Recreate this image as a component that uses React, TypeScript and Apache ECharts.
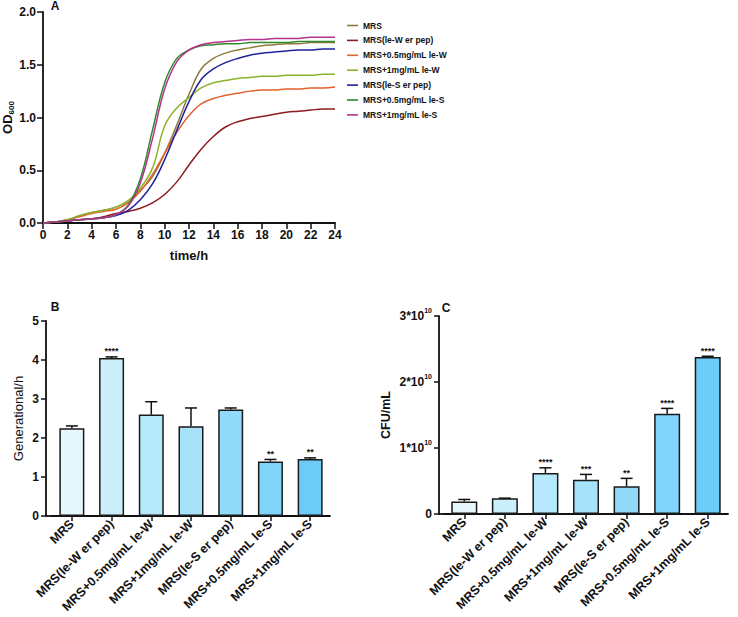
import React, { useEffect, useRef } from "react";
import * as echarts from "echarts";

// ---------- Panel A: growth curves ----------
const hours = [0, 1, 2, 3, 4, 5, 6, 7, 8, 9, 10, 11, 12, 13, 14, 15, 16, 17, 18, 19, 20, 21, 22, 23, 24];
const groupNames = [
  "MRS",
  "MRS(le-W er pep)",
  "MRS+0.5mg/mL le-W",
  "MRS+1mg/mL le-W",
  "MRS(le-S er pep)",
  "MRS+0.5mg/mL le-S",
  "MRS+1mg/mL le-S",
];
const odMRS = [0.0, 0.01, 0.03, 0.07, 0.1, 0.12, 0.15, 0.21, 0.31, 0.44, 0.66, 0.93, 1.22, 1.46, 1.56, 1.61, 1.64, 1.66, 1.68, 1.69, 1.7, 1.7, 1.71, 1.71, 1.71];
const odLeWPep = [0.0, 0.01, 0.02, 0.03, 0.04, 0.06, 0.09, 0.11, 0.14, 0.19, 0.27, 0.39, 0.55, 0.7, 0.82, 0.91, 0.96, 0.99, 1.01, 1.03, 1.05, 1.06, 1.07, 1.08, 1.08];
const odLeW05 = [0.0, 0.01, 0.03, 0.06, 0.09, 0.11, 0.13, 0.19, 0.3, 0.46, 0.66, 0.86, 1.02, 1.13, 1.18, 1.21, 1.23, 1.25, 1.26, 1.26, 1.27, 1.27, 1.28, 1.28, 1.29];
const odLeW1 = [0.0, 0.01, 0.03, 0.07, 0.1, 0.12, 0.15, 0.21, 0.33, 0.52, 0.92, 1.09, 1.19, 1.28, 1.33, 1.35, 1.37, 1.38, 1.39, 1.39, 1.4, 1.4, 1.4, 1.41, 1.41];
const odLeSPep = [0.0, 0.01, 0.02, 0.03, 0.04, 0.05, 0.07, 0.12, 0.22, 0.37, 0.6, 0.88, 1.15, 1.36, 1.46, 1.52, 1.56, 1.59, 1.61, 1.62, 1.63, 1.64, 1.64, 1.65, 1.65];
const odLeS05 = [0.0, 0.01, 0.02, 0.03, 0.04, 0.05, 0.08, 0.17, 0.42, 0.88, 1.33, 1.56, 1.64, 1.68, 1.69, 1.7, 1.7, 1.71, 1.71, 1.71, 1.71, 1.72, 1.72, 1.72, 1.72];
const odLeS1 = [0.0, 0.01, 0.02, 0.03, 0.04, 0.05, 0.08, 0.16, 0.38, 0.8, 1.27, 1.53, 1.64, 1.69, 1.71, 1.72, 1.73, 1.74, 1.74, 1.75, 1.75, 1.75, 1.76, 1.76, 1.76];
const odSeries = [odMRS, odLeWPep, odLeW05, odLeW1, odLeSPep, odLeS05, odLeS1];
const lineColors = ["#8F7B3C", "#8E1B1F", "#E2622C", "#8CB32B", "#20209A", "#2F8A2F", "#B4338E"];

// ---------- Panel B: generation ----------
const genMean = [2.25, 4.05, 2.6, 2.3, 2.73, 1.4, 1.46];
const genErrTop = [2.31, 4.08, 2.93, 2.77, 2.77, 1.45, 1.49];
const genSig = ["", "****", "", "", "", "**", "**"];

// ---------- Panel C: CFU ----------
const cfuMean = [1.9e9, 2.4e9, 6.2e9, 5.2e9, 4.2e9, 1.52e10, 2.38e10];
const cfuErrTop = [2.2e9, 2.4e9, 7.0e9, 6.0e9, 5.4e9, 1.6e10, 2.39e10];
const cfuSig = ["", "", "****", "***", "**", "****", "****"];

const barColors = ["#E6F7FE", "#CCEFFC", "#B6E8FB", "#A6E2FA", "#91DAF9", "#80D3F9", "#6DCBF7"];

const FONT = "'Liberation Sans', Arial, sans-serif";

// grid geometry (pixels)
const GA = { left: 43, top: 12, width: 292, height: 211, outerBoundsMode: "none" };
const GB = { left: 52, top: 321, width: 278, height: 195, outerBoundsMode: "none" };
const GC = { left: 444, top: 316, width: 284, height: 198, outerBoundsMode: "none" };

function errRender(errTop: number[], sig: string[]) {
  return (params: any, api: any) => {
    const i = params.dataIndex;
    const v = api.value(1);
    const e = api.value(2);
    const p0 = api.coord([i, v]);
    const p1 = api.coord([i, e]);
    const half = 6;
    const children: any[] = [
      { type: "line", shape: { x1: p0[0], y1: p0[1], x2: p1[0], y2: p1[1] }, style: { stroke: "#111", lineWidth: 1.5 } },
      { type: "line", shape: { x1: p1[0] - half, y1: p1[1], x2: p1[0] + half, y2: p1[1] }, style: { stroke: "#111", lineWidth: 1.5 } },
    ];
    if (sig[i]) {
      children.push({
        type: "text",
        style: {
          text: sig[i],
          x: p1[0],
          y: p1[1] - 1,
          align: "center",
          verticalAlign: "bottom",
          fontSize: 9,
          fontWeight: "bold",
          fontFamily: FONT,
          fill: "#111",
        },
      });
    }
    return { type: "group", children };
  };
}

const axisLine = { show: true, onZero: false, lineStyle: { color: "#111", width: 1.8 } };
const axisTick = { show: true, length: 5, lineStyle: { color: "#111", width: 1.5 } };
const tickLabel = { color: "#111", fontSize: 12, fontWeight: "bold" as const, fontFamily: FONT };

export default function App() {
  const ref = useRef<HTMLDivElement>(null);
  useEffect(() => {
    if (!ref.current) return;
    const chart = echarts.init(ref.current, undefined, { renderer: "svg" });
    const option: any = {
      animation: false,
      backgroundColor: "#fff",
      textStyle: { fontFamily: FONT },
      grid: [GA, GB, GC],
      legend: {
        orient: "vertical",
        left: 347,
        top: 21,
        padding: 0,
        itemWidth: 11,
        itemHeight: 8,
        itemGap: 5.9,
        icon: "path://M0,0h11v1.6h-11z",
        data: groupNames,
        textStyle: { fontSize: 8.5, fontWeight: "bold", color: "#111", fontFamily: FONT },
      },
      xAxis: [
        {
          gridIndex: 0,
          type: "value",
          min: 0,
          max: 24,
          interval: 2,
          name: "time/h",
          nameLocation: "middle",
          nameGap: 26,
          nameTextStyle: { fontSize: 13, fontWeight: "bold", color: "#111", fontFamily: FONT },
          axisLine,
          axisTick: { ...axisTick, length: 6 },
          axisLabel: { ...tickLabel, margin: 6 },
          splitLine: { show: false },
        },
        {
          gridIndex: 1,
          type: "category",
          data: groupNames,
          axisLine,
          axisTick: { ...axisTick, alignWithLabel: true },
          axisLabel: { ...tickLabel, fontSize: 12.5, rotate: 45, interval: 0, margin: 6 },
        },
        {
          gridIndex: 2,
          type: "category",
          data: groupNames,
          axisLine,
          axisTick: { ...axisTick, alignWithLabel: true },
          axisLabel: { ...tickLabel, fontSize: 12.5, rotate: 45, interval: 0, margin: 6 },
        },
      ],
      yAxis: [
        {
          gridIndex: 0,
          type: "value",
          min: 0,
          max: 2,
          interval: 0.5,
          name: "{a|OD}{b|600}",
          nameLocation: "middle",
          nameGap: 13,
          nameTextStyle: {
            rich: {
              a: { fontSize: 13, fontWeight: "bold", color: "#111", lineHeight: 16, verticalAlign: "middle", fontFamily: FONT },
              b: { fontSize: 8, fontWeight: "bold", color: "#111", lineHeight: 8, verticalAlign: "bottom", fontFamily: FONT },
            },
          },
          axisLine,
          axisTick: { ...axisTick, length: 6 },
          axisLabel: { ...tickLabel, margin: 7, formatter: (v: number) => v.toFixed(1) },
          splitLine: { show: false },
        },
        {
          gridIndex: 1,
          type: "value",
          min: 0,
          max: 5,
          interval: 1,
          offset: 6,
          name: "Generational/h",
          nameLocation: "middle",
          nameGap: 21,
          nameTextStyle: { fontSize: 13, color: "#111", fontFamily: FONT },
          axisLine,
          axisTick,
          axisLabel: { ...tickLabel, margin: 7 },
          splitLine: { show: false },
        },
        {
          gridIndex: 2,
          type: "value",
          min: 0,
          max: 3e10,
          interval: 1e10,
          offset: 5,
          name: "CFU/mL",
          nameLocation: "middle",
          nameGap: 47,
          nameTextStyle: { fontSize: 12.5, fontWeight: "bold", color: "#111", fontFamily: FONT },
          axisLine,
          axisTick,
          axisLabel: {
            ...tickLabel,
            margin: 7,
            formatter: (v: number) => (v === 0 ? "{m|0}" : `{m|${Math.round(v / 1e10)}*10}{s|10}`),
            rich: {
              m: { fontSize: 12, fontWeight: "bold", color: "#111", lineHeight: 18, verticalAlign: "middle", fontFamily: FONT },
              s: { fontSize: 7, fontWeight: "bold", color: "#111", lineHeight: 7, verticalAlign: "top", fontFamily: FONT },
            },
          },
          splitLine: { show: false },
        },
      ],
      series: [
        ...groupNames.map((name, k) => ({
          name,
          type: "line",
          xAxisIndex: 0,
          yAxisIndex: 0,
          smooth: 0.4,
          symbol: "none",
          lineStyle: { width: 1.5, color: lineColors[k] },
          itemStyle: { color: lineColors[k] },
          data: hours.map((h, i) => [h, odSeries[k][i]]),
        })),
        {
          type: "bar",
          xAxisIndex: 1,
          yAxisIndex: 1,
          barWidth: 25,
          data: genMean.map((v, i) => ({ value: v, itemStyle: { color: barColors[i] } })),
          itemStyle: { borderColor: "#1a1a1a", borderWidth: 1.5 },
        },
        {
          type: "custom",
          xAxisIndex: 1,
          yAxisIndex: 1,
          z: 10,
          renderItem: errRender(genErrTop, genSig),
          data: genMean.map((v, i) => [i, v, genErrTop[i]]),
        },
        {
          type: "bar",
          xAxisIndex: 2,
          yAxisIndex: 2,
          barWidth: 26,
          data: cfuMean.map((v, i) => ({ value: v, itemStyle: { color: barColors[i] } })),
          itemStyle: { borderColor: "#1a1a1a", borderWidth: 1.5 },
        },
        {
          type: "custom",
          xAxisIndex: 2,
          yAxisIndex: 2,
          z: 10,
          renderItem: errRender(cfuErrTop, cfuSig),
          data: cfuMean.map((v, i) => [i, v, cfuErrTop[i]]),
        },
      ],
      graphic: [
        {
          type: "line",
          z: 5,
          shape: { x1: GB.left - 6, y1: GB.top + GB.height, x2: GB.left + 1, y2: GB.top + GB.height },
          style: { stroke: "#111", lineWidth: 1.8 },
        },
        {
          type: "line",
          z: 5,
          shape: { x1: GC.left - 5, y1: GC.top + GC.height, x2: GC.left + 1, y2: GC.top + GC.height },
          style: { stroke: "#111", lineWidth: 1.8 },
        },
        { type: "text", x: 55, y: 6, style: { text: "A", fontSize: 12, fontWeight: "bold", fill: "#111", align: "center", verticalAlign: "middle", fontFamily: FONT } },
        { type: "text", x: 55, y: 307, style: { text: "B", fontSize: 12, fontWeight: "bold", fill: "#111", align: "center", verticalAlign: "middle", fontFamily: FONT } },
        { type: "text", x: 446, y: 308, style: { text: "C", fontSize: 12, fontWeight: "bold", fill: "#111", align: "center", verticalAlign: "middle", fontFamily: FONT } },
      ],
    };
    chart.setOption(option);
    return () => chart.dispose();
  }, []);
  return <div ref={ref} style={{ position: "fixed", left: 0, top: 0, width: 738, height: 617 }} />;
}
